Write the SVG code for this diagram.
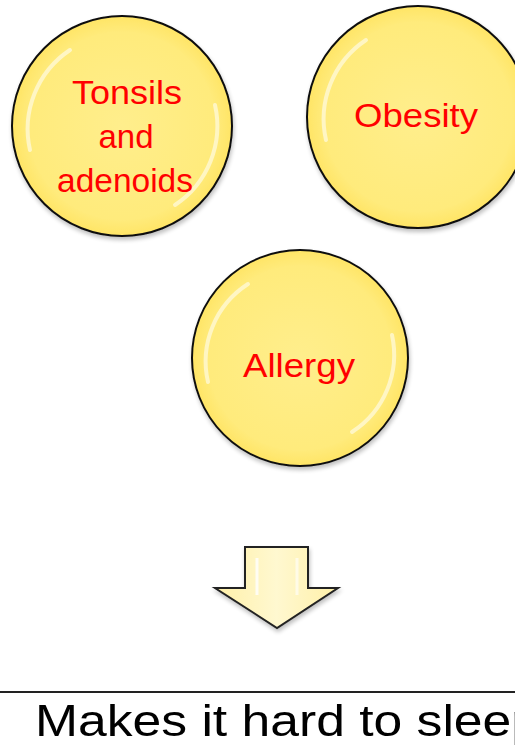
<svg xmlns="http://www.w3.org/2000/svg" width="515" height="747" viewBox="0 0 515 747">
<defs>
<radialGradient id="ball" cx="50%" cy="50%" r="50%">
<stop offset="0" stop-color="#FFEE8C"/>
<stop offset="0.85" stop-color="#FFEB7C"/>
<stop offset="1" stop-color="#FFE566"/>
</radialGradient>
<linearGradient id="arrowFill" x1="0" y1="0" x2="1" y2="0">
<stop offset="0" stop-color="#FFF0A8"/>
<stop offset="0.5" stop-color="#FFF8D0"/>
<stop offset="1" stop-color="#FFF0A8"/>
</linearGradient>
<filter id="shadow" x="-10%" y="-10%" width="125%" height="125%">
<feGaussianBlur in="SourceAlpha" stdDeviation="2"/>
<feOffset dx="1" dy="3"/>
<feComponentTransfer><feFuncA type="linear" slope="0.25"/></feComponentTransfer>
<feMerge><feMergeNode/><feMergeNode in="SourceGraphic"/></feMerge>
</filter>
</defs>
<style>
.ball{fill:url(#ball);stroke:#111;stroke-width:2;filter:url(#shadow)}
.hl{fill:none;stroke:#FFFFFF;stroke-width:4;stroke-linecap:round;opacity:0.55}
.lbl{font-family:"Comic Sans MS","Liberation Sans",sans-serif;font-size:33px;fill:#FF0000;text-anchor:middle}
.big{font-family:"Comic Sans MS","Liberation Sans",sans-serif;font-size:45px;fill:#000}
</style>
<rect width="515" height="747" fill="#FFFFFF"/>
<g id="node-tonsils">
<circle class="ball" cx="122" cy="126" r="110"/>
<path class="hl" d="M30,150 A95,95 0 0 1 70,50"/>
<path class="hl" d="M215,105 A95,95 0 0 1 175,205"/>
<text class="lbl" x="127" y="104" textLength="110" lengthAdjust="spacingAndGlyphs">Tonsils</text>
<text class="lbl" x="126" y="148" textLength="55" lengthAdjust="spacingAndGlyphs">and</text>
<text class="lbl" x="125" y="192" textLength="136" lengthAdjust="spacingAndGlyphs">adenoids</text>
</g>
<g id="node-obesity">
<circle class="ball" cx="418" cy="117" r="111"/>
<path class="hl" d="M326,140 A95,95 0 0 1 366,40"/>
<text class="lbl" x="416" y="127" textLength="124" lengthAdjust="spacingAndGlyphs">Obesity</text>
</g>
<g id="node-allergy">
<circle class="ball" cx="300" cy="358" r="108"/>
<path class="hl" d="M208,382 A92,92 0 0 1 248,284"/>
<path class="hl" d="M392,335 A92,92 0 0 1 352,432"/>
<text class="lbl" x="299" y="377" textLength="112" lengthAdjust="spacingAndGlyphs">Allergy</text>
</g>
<g id="connectors">
<path d="M245,547 L308,547 L308,588 L338,588 L277,628 L215,588 L245,588 Z" fill="url(#arrowFill)" stroke="#222" stroke-width="2" stroke-linejoin="miter" filter="url(#shadow)"/>
<path d="M257,558 L257,595" stroke="#FFFFFF" stroke-width="3" opacity="0.8"/>
<path d="M297,558 L297,595" stroke="#FFFFFF" stroke-width="3" opacity="0.6"/>
</g>
<g id="node-result">
<line x1="0" y1="692" x2="515" y2="692" stroke="#222" stroke-width="2"/>
<text class="big" x="35" y="736" textLength="505" lengthAdjust="spacingAndGlyphs">Makes it hard to sleep</text>
</g>
</svg>
